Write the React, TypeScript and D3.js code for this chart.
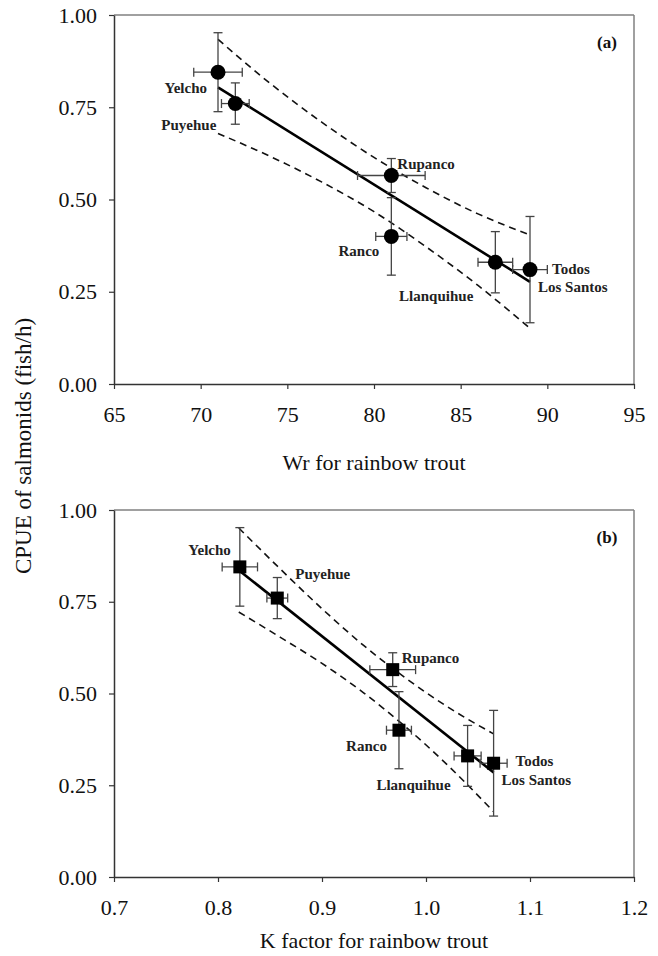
import React, { useEffect, useRef } from "react";
import * as d3 from "d3";

// lakes, in the order of the points
const lakes = ["Yelcho", "Puyehue", "Rupanco", "Ranco", "Llanquihue", "Todos Los Santos"];

// CPUE of salmonids (fish/h) with error bars
const cpue = [0.845, 0.760, 0.565, 0.400, 0.330, 0.310];
const cpueErr = [0.107, 0.056, 0.046, 0.105, 0.083, 0.144];

// panel (a): relative weight Wr
const wr = [71, 72, 81, 81, 87, 89];
const wrErr = [1.4, 0.8, 1.95, 0.9, 1.0, 1.0];
const wrFitX = [71, 89];
const wrFitY = [0.804, 0.277];
const wrBandX = [71, 74, 77, 80, 83, 86, 89];
const wrUpper = [0.934, 0.815, 0.709, 0.614, 0.532, 0.461, 0.404];
const wrLower = [0.679, 0.617, 0.547, 0.467, 0.372, 0.267, 0.151];
const wrTicks = [65, 70, 75, 80, 85, 90, 95];

// panel (b): condition factor K
const kf = [0.821, 0.857, 0.968, 0.974, 1.040, 1.065];
const kfErr = [0.017, 0.010, 0.022, 0.012, 0.013, 0.013];
const kFitX = [0.82, 1.065];
const kFitY = [0.836, 0.285];
const kBandX = [0.82, 0.86, 0.90, 0.94, 0.98, 1.02, 1.065];
const kUpper = [0.951, 0.839, 0.731, 0.631, 0.543, 0.465, 0.390];
const kLower = [0.722, 0.653, 0.582, 0.502, 0.410, 0.307, 0.178];
const kTicks = [0.7, 0.8, 0.9, 1.0, 1.1, 1.2];

const cpueTicks = [0, 0.25, 0.5, 0.75, 1.0];

// label placement relative to each point: [dx, dy, anchor]
const labelsA: [number, number, string][] = [
  [-11, 16, "end"], [-19, 21, "end"], [6, -12, "start"],
  [-12, 15, "end"], [-22, 34, "end"], [22, -1, "start"],
];
const labelsB: [number, number, string][] = [
  [-9, -17, "end"], [18, -24, "start"], [9, -12, "start"],
  [-12, 16, "end"], [-17, 29, "end"], [22, -2, "start"],
];

const W = 658;
const H = 956;
const left = 114;
const right = 634;
const serif = "'Liberation Serif', 'Times New Roman', serif";

function drawPanel(svg, opts) {
  const { top, bottom, xs, xErr, xDomain, xTicks, xFmt, fitX, fitY, bandX, upper, lower,
    labels, marker, tag, title, titleY } = opts;

  const g = svg.append("g");
  const x = d3.scaleLinear().domain(xDomain).range([left, right]);
  const y = d3.scaleLinear().domain([0, 1]).range([bottom, top]);

  // frame: top and right in grey
  g.append("line").attr("x1", left).attr("x2", right).attr("y1", top).attr("y2", top)
    .attr("stroke", "#808080").attr("stroke-width", 1.5);
  g.append("line").attr("x1", right).attr("x2", right).attr("y1", top).attr("y2", bottom)
    .attr("stroke", "#808080").attr("stroke-width", 1.5);

  const yAxis = d3.axisLeft(y).tickValues(cpueTicks).tickFormat(d3.format(".2f"))
    .tickSizeInner(5).tickSizeOuter(0).tickPadding(12);
  const gy = g.append("g").attr("transform", "translate(" + left + ",0)").call(yAxis);
  const xAxis = d3.axisBottom(x).tickValues(xTicks).tickFormat(xFmt)
    .tickSizeInner(5).tickSizeOuter(0).tickPadding(17);
  const gx = g.append("g").attr("transform", "translate(0," + bottom + ")").call(xAxis);

  [gx, gy].forEach((a) => {
    a.select(".domain").attr("stroke", "#333").attr("stroke-width", 1.5);
    a.selectAll(".tick line").attr("stroke", "#333").attr("stroke-width", 1.2);
    a.selectAll(".tick text").attr("fill", "#111").style("font-family", serif).style("font-size", "22px");
  });

  g.append("text").attr("x", (left + right) / 2).attr("y", titleY).attr("text-anchor", "middle")
    .style("font-family", serif).style("font-size", "22px").attr("fill", "#111").text(title);

  g.append("text").attr("x", 607).attr("y", top + 33).attr("text-anchor", "middle")
    .style("font-family", serif).style("font-size", "17px").style("font-weight", "bold")
    .attr("fill", "#111").text(tag);

  // confidence band
  const band = d3.line().x((d) => x(d[0])).y((d) => y(d[1])).curve(d3.curveMonotoneX);
  [upper, lower].forEach((arr) => {
    g.append("path").datum(bandX.map((v, i) => [v, arr[i]])).attr("d", band)
      .attr("fill", "none").attr("stroke", "#111").attr("stroke-width", 1.6)
      .attr("stroke-dasharray", "7,5");
  });

  // fitted line
  g.append("path").datum(fitX.map((v, i) => [v, fitY[i]]))
    .attr("d", d3.line().x((d) => x(d[0])).y((d) => y(d[1])))
    .attr("fill", "none").attr("stroke", "#000").attr("stroke-width", 2.6);

  // error bars
  const cap = 4.5;
  xs.forEach((v, i) => {
    const px = x(v), py = y(cpue[i]);
    const y0 = y(cpue[i] - cpueErr[i]), y1 = y(cpue[i] + cpueErr[i]);
    const x0 = x(v - xErr[i]), x1 = x(v + xErr[i]);
    const eb = g.append("g").attr("stroke", "#444").attr("stroke-width", 1.3);
    eb.append("line").attr("x1", px).attr("x2", px).attr("y1", y0).attr("y2", y1);
    eb.append("line").attr("x1", px - cap).attr("x2", px + cap).attr("y1", y0).attr("y2", y0);
    eb.append("line").attr("x1", px - cap).attr("x2", px + cap).attr("y1", y1).attr("y2", y1);
    eb.append("line").attr("x1", x0).attr("x2", x1).attr("y1", py).attr("y2", py);
    eb.append("line").attr("x1", x0).attr("x2", x0).attr("y1", py - cap).attr("y2", py + cap);
    eb.append("line").attr("x1", x1).attr("x2", x1).attr("y1", py - cap).attr("y2", py + cap);
  });

  // markers
  xs.forEach((v, i) => {
    const px = x(v), py = y(cpue[i]);
    if (marker === "circle") {
      g.append("circle").attr("cx", px).attr("cy", py).attr("r", 7.5).attr("fill", "#000");
    } else {
      g.append("rect").attr("x", px - 6.5).attr("y", py - 6.5).attr("width", 13).attr("height", 13)
        .attr("fill", "#000");
    }
  });

  // lake labels
  lakes.forEach((name, i) => {
    const px = x(xs[i]), py = y(cpue[i]);
    const [dx, dy, anchor] = labels[i];
    const parts = name === "Todos Los Santos" ? ["Todos", "Los Santos"] : [name];
    parts.forEach((p, j) => {
      g.append("text")
        .attr("x", px + dx - (j === 1 ? 14 : 0))
        .attr("y", py + dy + j * 18.5)
        .attr("dominant-baseline", "central")
        .attr("text-anchor", anchor)
        .style("font-family", serif).style("font-size", "15px").style("font-weight", "bold")
        .attr("fill", "#222").text(p);
    });
  });
}

export default function App() {
  const ref = useRef(null);

  useEffect(() => {
    const svg = d3.select(ref.current);
    svg.selectAll("*").remove();

    drawPanel(svg, {
      top: 15, bottom: 384, xs: wr, xErr: wrErr, xDomain: [65, 95], xTicks: wrTicks,
      xFmt: d3.format("d"), fitX: wrFitX, fitY: wrFitY, bandX: wrBandX, upper: wrUpper,
      lower: wrLower, labels: labelsA, marker: "circle", tag: "(a)",
      title: "Wr for rainbow trout", titleY: 470,
    });
    drawPanel(svg, {
      top: 510, bottom: 877, xs: kf, xErr: kfErr, xDomain: [0.7, 1.2], xTicks: kTicks,
      xFmt: d3.format(".1f"), fitX: kFitX, fitY: kFitY, bandX: kBandX, upper: kUpper,
      lower: kLower, labels: labelsB, marker: "square", tag: "(b)",
      title: "K factor for rainbow trout", titleY: 948,
    });

    svg.append("text")
      .attr("transform", "translate(31,446) rotate(-90)")
      .attr("text-anchor", "middle")
      .style("font-family", serif).style("font-size", "23px").attr("fill", "#111")
      .text("CPUE of salmonids (fish/h)");
  }, []);

  return (
    <svg ref={ref} width={W} height={H} style={{ position: "absolute", left: 0, top: 0, background: "#fff" }} />
  );
}
